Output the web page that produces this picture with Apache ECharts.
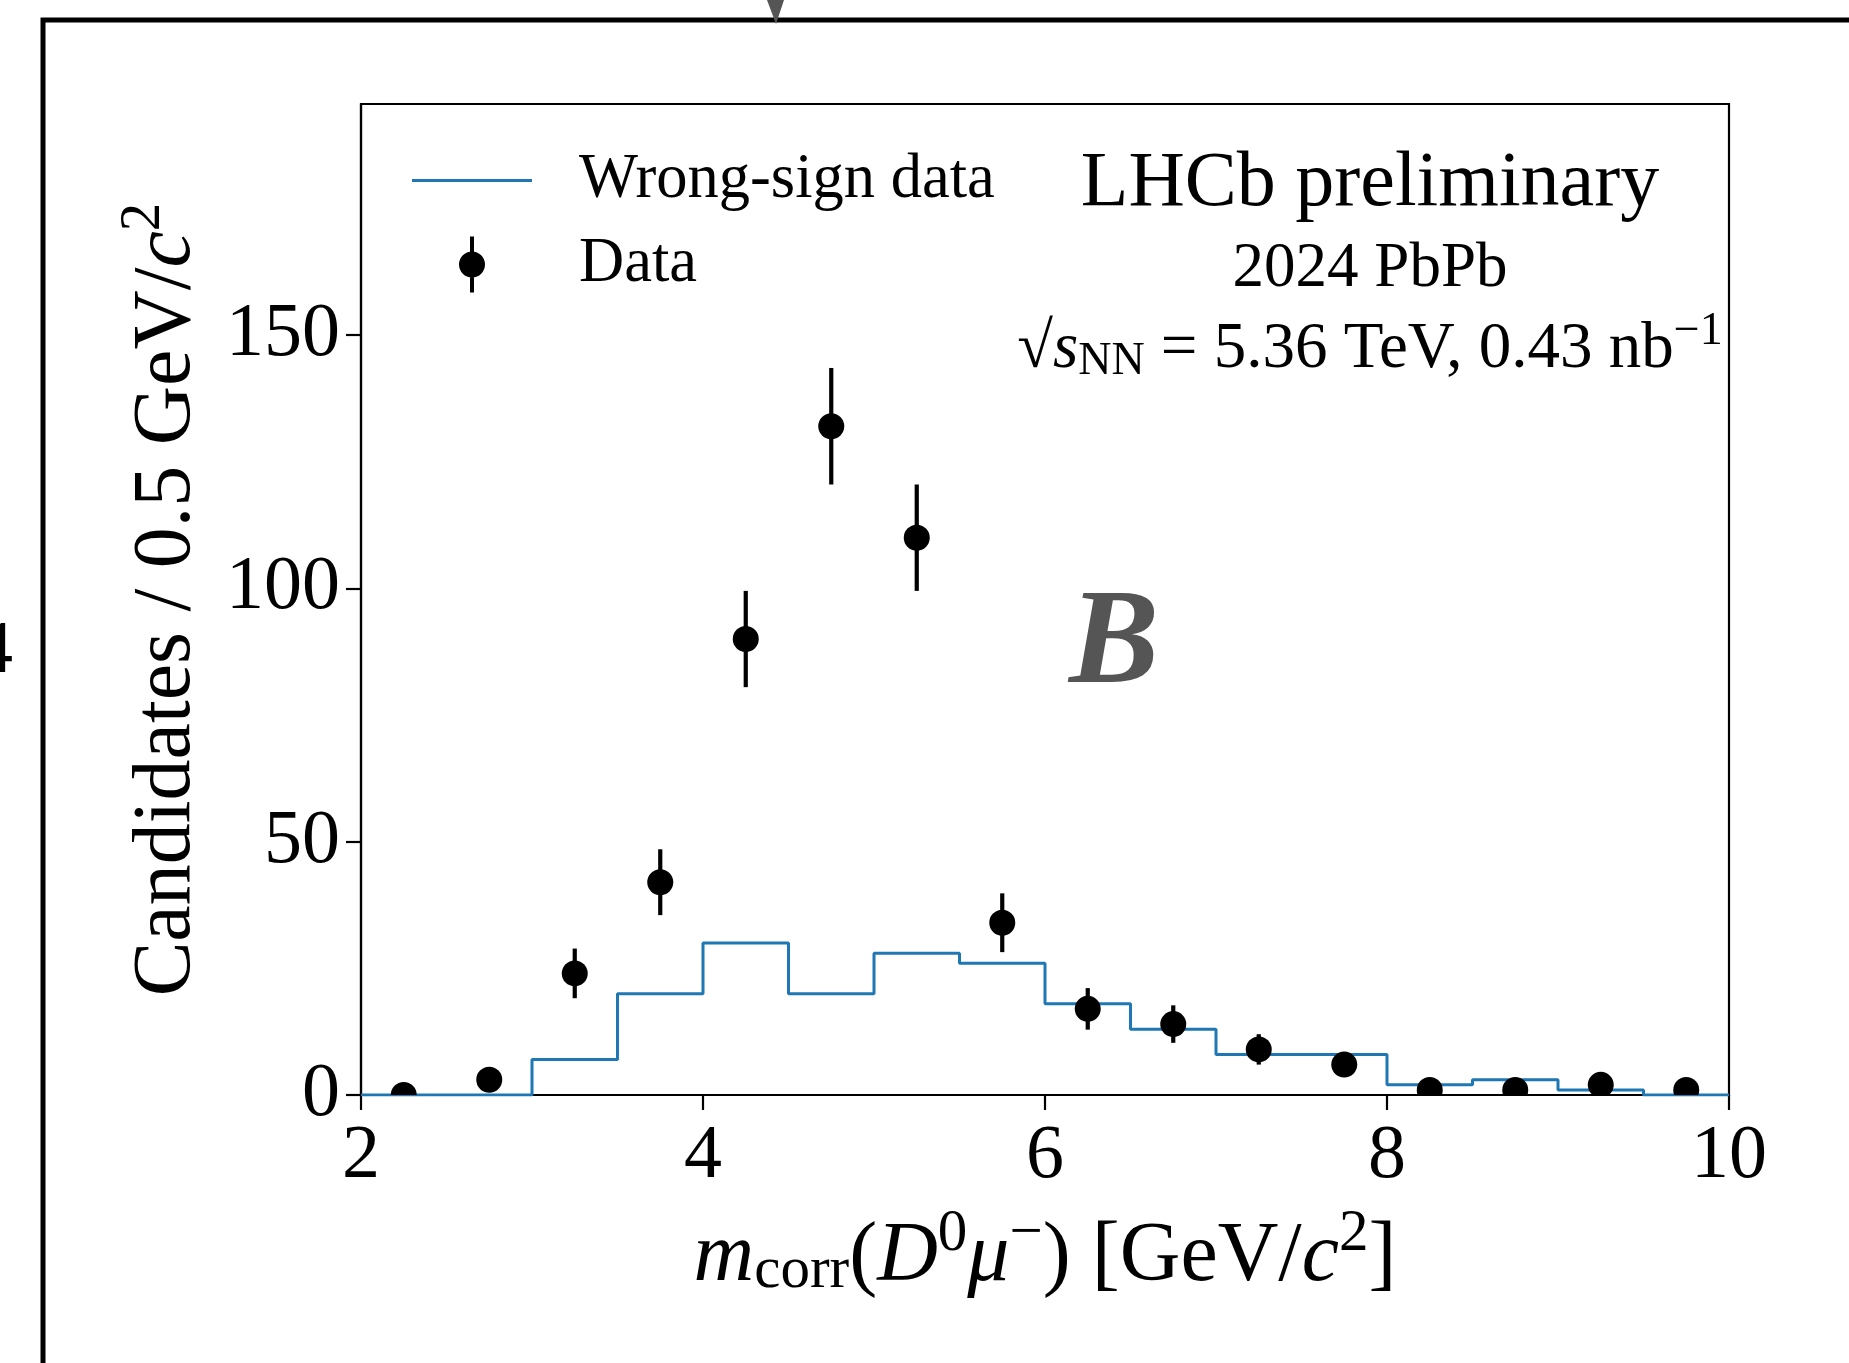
<!DOCTYPE html>
<html>
<head>
<meta charset="utf-8">
<script src="https://cdn.jsdelivr.net/npm/echarts@6/dist/echarts.min.js"></script>
<style>
html,body{margin:0;padding:0;background:#fff;}
#chart{width:1849px;height:1363px;}
</style>
</head>
<body>
<div id="chart"></div>
<script>
// ---- data ----
const binEdges   = [2.0, 2.5, 3.0, 3.5, 4.0, 4.5, 5.0, 5.5, 6.0, 6.5, 7.0, 7.5, 8.0, 8.5, 9.0, 9.5];
const wrongSign  = [0, 0, 7, 20, 30, 20, 28, 26, 18, 13, 8, 8, 2, 3, 1, 0];
const histEnd    = 10.0;
const binCenters = [2.25, 2.75, 3.25, 3.75, 4.25, 4.75, 5.25, 5.75, 6.25, 6.75, 7.25, 7.75, 8.25, 8.75, 9.25, 9.75];
const dataCounts = [0, 3, 24, 42, 90, 132, 110, 34, 17, 14, 9, 6, 1, 1, 2, 1];
const dataErrors = [0, 1.7, 4.9, 6.5, 9.5, 11.5, 10.5, 5.8, 4.1, 3.7, 3.0, 2.4, 1.0, 1.0, 1.4, 1.0];
const xTicks = [2, 4, 6, 8, 10];
const yTicks = [0, 50, 100, 150];

const FONT = 'Liberation Serif';
const BLUE = '#1f77b4';

const chart = echarts.init(document.getElementById('chart'), null, {renderer: 'canvas'});

const histData = binEdges.map((e, i) => [e, wrongSign[i]]).concat([[histEnd, 0]]);
const pointData = binCenters.map((x, i) => [x, dataCounts[i], dataErrors[i]]);

const lineIcon = 'path://M0,0M120,56M0,26.5h120v3H0z';
const dataIcon = 'path://M0,0M120,56M58,0h4v56h-4zM73,28a13,13 0 1,1 -26,0a13,13 0 1,1 26,0z';

const option = {
  backgroundColor: '#fff',
  animation: false,
  grid: {
    left: 361, right: 120, top: 104, bottom: 268,
    show: true, borderColor: '#000', borderWidth: 2.2, backgroundColor: 'transparent',
    containLabel: false, outerBoundsMode: 'none'
  },
  legend: {
    orient: 'vertical', left: 407, top: 144,
    itemWidth: 120, itemHeight: 56, itemGap: 21,
    selectedMode: false,
    itemStyle: {borderWidth: 0},
    textStyle: {fontFamily: FONT, fontSize: 62.5, color: '#000', padding: [0, 0, 0, 42]},
    data: [
      {name: 'Wrong-sign data', icon: lineIcon},
      {name: 'Data', icon: dataIcon}
    ]
  },
  xAxis: {
    type: 'value', min: 2, max: 10, interval: 2,
    name: '{i|m}{sub|corr}{n|(}{i|D}{sup|0}{i|μ}{sup|−}{n|) [GeV/}{i|c}{sup|2}{n|]}',
    nameLocation: 'middle', nameGap: 110,
    nameTextStyle: {
      fontFamily: FONT, fontSize: 84, color: '#000',
      rich: {
        n: {fontFamily: FONT, fontSize: 84, color: '#000'},
        i: {fontFamily: FONT, fontSize: 84, fontStyle: 'italic', color: '#000'},
        sub: {fontFamily: FONT, fontSize: 59, color: '#000', padding: [27, 0, 0, 0]},
        sup: {fontFamily: FONT, fontSize: 59, color: '#000', padding: [0, 0, 46, 0]}
      }
    },
    axisLine: {show: true, onZero: false, lineStyle: {color: '#000', width: 2.2}},
    axisTick: {show: true, inside: false, length: 15, lineStyle: {color: '#000', width: 2.2}, customValues: xTicks},
    axisLabel: {fontFamily: FONT, fontSize: 76, color: '#000', margin: 24, customValues: xTicks},
    splitLine: {show: false}
  },
  yAxis: {
    type: 'value', min: 0, max: 195.6,
    name: '{n|Candidates / 0.5 GeV/}{i|c}{sup|2}',
    nameLocation: 'middle', nameGap: 143, nameRotate: 90,
    nameTextStyle: {
      fontFamily: FONT, fontSize: 82, color: '#000',
      rich: {
        n: {fontFamily: FONT, fontSize: 82, color: '#000'},
        i: {fontFamily: FONT, fontSize: 82, fontStyle: 'italic', color: '#000'},
        sup: {fontFamily: FONT, fontSize: 57, color: '#000', padding: [0, 0, 45, 0]}
      }
    },
    axisLine: {show: true, onZero: false, lineStyle: {color: '#000', width: 2.2}},
    axisTick: {show: true, inside: false, length: 15, lineStyle: {color: '#000', width: 2.2}, customValues: yTicks},
    axisLabel: {fontFamily: FONT, fontSize: 76, color: '#000', margin: 21, customValues: yTicks},
    splitLine: {show: false}
  },
  series: [
    {
      name: 'Wrong-sign data', type: 'line', step: 'end',
      data: histData, showSymbol: false, symbol: 'none',
      lineStyle: {color: BLUE, width: 3},
      itemStyle: {color: BLUE},
      clip: true, z: 2
    },
    {
      name: 'Data', type: 'custom', clip: true, z: 3,
      itemStyle: {color: '#000'},
      data: pointData,
      encode: {x: 0, y: 1},
      renderItem: function (params, api) {
        const x = api.value(0), y = api.value(1), e = api.value(2);
        const c = api.coord([x, y]);
        const lo = api.coord([x, y - e]);
        const hi = api.coord([x, y + e]);
        return {
          type: 'group',
          children: [
            {type: 'line', shape: {x1: c[0], y1: lo[1], x2: c[0], y2: hi[1]},
             style: {stroke: '#000', lineWidth: 4.2}},
            {type: 'circle', shape: {cx: c[0], cy: c[1], r: 13},
             style: {fill: '#000'}}
          ]
        };
      }
    }
  ],
  graphic: [
    {type: 'rect', silent: true, z: 10,
     shape: {x: 43, y: 20, width: 2200, height: 2200},
     style: {fill: 'none', stroke: '#000', lineWidth: 5}},
    {type: 'polygon', silent: true, z: 11,
     shape: {points: [[767, 0], [784, 0], [776, 24]]},
     style: {fill: '#555'}},
    {type: 'text', silent: true, z: 10, x: 13, y: 652,
     style: {text: '4', fontFamily: FONT, fontSize: 75, fill: '#000', align: 'right', verticalAlign: 'middle'}},
    {type: 'text', silent: true, z: 10, x: 1370, y: 185,
     style: {text: 'LHCb preliminary', fontFamily: FONT, fontSize: 78, fill: '#000', align: 'center', verticalAlign: 'middle'}},
    {type: 'text', silent: true, z: 10, x: 1370, y: 269,
     style: {text: '2024 PbPb', fontFamily: FONT, fontSize: 63, fill: '#000', align: 'center', verticalAlign: 'middle'}},
    {type: 'text', silent: true, z: 10, x: 1370, y: 350,
     style: {
       text: '{n|√}{i|s}{sub|NN}{n| = 5.36 TeV, 0.43 nb}{sup|−1}',
       align: 'center', verticalAlign: 'middle',
       rich: {
         n: {fontFamily: FONT, fontSize: 65, fill: '#000'},
         i: {fontFamily: FONT, fontSize: 65, fontStyle: 'italic', fill: '#000'},
         sub: {fontFamily: FONT, fontSize: 46, fill: '#000', padding: [24, 0, 0, 0]},
         sup: {fontFamily: FONT, fontSize: 46, fill: '#000', padding: [0, 0, 36, 0]}
       }
     }},
    {type: 'text', silent: true, z: 10, x: 1114, y: 647,
     style: {text: 'B', fontFamily: FONT, fontSize: 135, fontStyle: 'italic', fontWeight: 'bold', fill: '#555', align: 'center', verticalAlign: 'middle'}}
  ]
};

chart.setOption(option);
</script>
</body>
</html>
